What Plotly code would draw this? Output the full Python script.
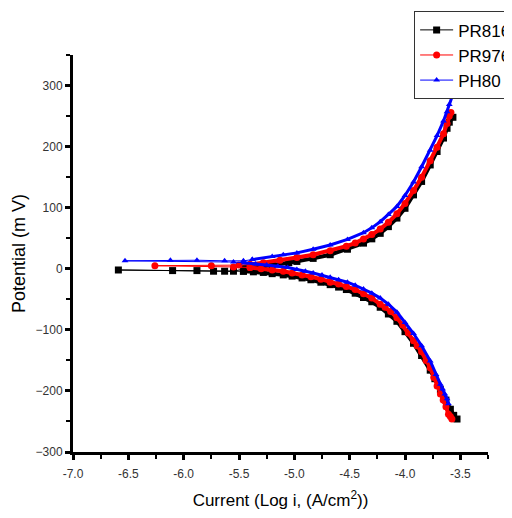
import plotly.graph_objects as go

# PR816 (black squares): cathodic branch, points near Ecorr, anodic branch
pr816_cath_x = [-3.53, -3.56, -3.59, -3.63, -3.68, -3.73, -3.772, -3.85, -3.923, -4.00, -4.073, -4.15, -4.224, -4.30,
                -4.375, -4.45, -4.53, -4.60, -4.676, -4.76, -4.85, -4.93, -5.02, -5.10, -5.20, -5.28, -5.37, -5.46]
pr816_cath_y = [-246, -240, -230, -215, -198, -180, -166, -142, -122, -103, -86, -74, -63, -54,
                -47, -40, -34, -30, -26, -22, -18, -15, -12, -10, -8, -6, -5, -4]
pr816_ecorr_x = [-5.46, -5.63, -6.59, -6.10, -5.88, -5.73, -5.55, -5.45]
pr816_ecorr_y = [-4, -4, -2, -3, -3, -4, -4, 0]
pr816_anod_x = [-5.45, -5.35, -5.20, -5.05, -4.977, -4.83, -4.676, -4.52, -4.375, -4.30, -4.224, -4.15, -4.073, -4.00,
                -3.923, -3.85, -3.772, -3.71, -3.652, -3.62, -3.60, -3.567]
pr816_anod_y = [0, 3, 6, 10, 12, 17, 23, 32, 42, 49, 58, 69, 83, 99,
                121, 143, 170, 192, 214, 230, 240, 248]

# PR976 (red circles)
pr976_cath_x = [-3.576, -3.59, -3.607, -3.63, -3.655, -3.68, -3.71, -3.74, -3.772, -3.81, -3.85, -3.89, -3.923, -3.97,
                -4.02, -4.073, -4.13, -4.18, -4.224, -4.30, -4.375, -4.45, -4.53, -4.60, -4.676, -4.76, -4.85, -4.93,
                -5.02, -5.10, -5.20, -5.30, -5.40]
pr976_cath_y = [-246, -242, -238, -226, -215, -205, -192, -178, -162, -150, -136, -126, -118, -105,
                -92, -80, -70, -63, -58, -48, -41, -34, -29, -25, -22, -17, -13, -10,
                -7, -4, -2, 0, 2]
pr976_ecorr_x = [-5.40, -5.55, -6.26, -5.75, -5.50, -5.40]
pr976_ecorr_y = [2, 3, 5, 5, 6, 7]
pr976_anod_x = [-5.40, -5.28, -5.13, -4.977, -4.83, -4.676, -4.53, -4.45, -4.375, -4.30, -4.224, -4.15, -4.073, -4.00,
                -3.923, -3.85, -3.772, -3.71, -3.652, -3.62, -3.60, -3.585]
pr976_anod_y = [7, 10, 14, 18.5, 23, 29.5, 37, 42, 48.7, 56, 65, 76, 90, 107,
                128, 150, 177, 199, 221, 238, 250, 256]

# PH80 (blue triangles)
ph80_cath_x = [-3.607, -3.62, -3.64, -3.66, -3.68, -3.72, -3.772, -3.85, -3.923, -4.00, -4.073, -4.15, -4.224, -4.30,
               -4.375, -4.45, -4.52, -4.60, -4.676, -4.75, -4.83, -4.90, -4.977, -5.06, -5.15, -5.25, -5.35, -5.45]
ph80_cath_y = [-221, -213, -205, -197, -189, -173, -151, -126, -106, -88, -71, -58, -48, -40,
               -33, -27, -22, -18, -14, -10, -7, -4, -1, 2, 4, 6, 8, 10]
ph80_ecorr_x = [-5.45, -5.55, -6.53, -6.12, -5.88, -5.63, -5.46, -5.38]
ph80_ecorr_y = [10, 11, 13, 14, 14, 13, 13, 15]
ph80_anod_x = [-5.38, -5.20, -5.10, -4.977, -4.83, -4.676, -4.52, -4.375, -4.30, -4.224, -4.15, -4.073, -4.00,
               -3.923, -3.85, -3.772, -3.71, -3.652, -3.62, -3.60, -3.576]
ph80_anod_y = [15, 20, 23, 26, 32, 39, 48, 59, 67, 77, 89, 102, 120,
               142, 167, 194, 218, 242, 257, 269, 281]

x_ticks = [-7.0, -6.5, -6.0, -5.5, -5.0, -4.5, -4.0, -3.5]
x_tick_labels = ["-7.0", "-6.5", "-6.0", "-5.5", "-5.0", "-4.5", "-4.0", "-3.5"]
y_ticks = [-300, -200, -100, 0, 100, 200, 300]

series = [
    ("PR816", "black", "square", 7, 4, pr816_cath_x, pr816_cath_y, pr816_ecorr_x, pr816_ecorr_y, pr816_anod_x, pr816_anod_y),
    ("PR976", "red", "circle", 7, 4, pr976_cath_x, pr976_cath_y, pr976_ecorr_x, pr976_ecorr_y, pr976_anod_x, pr976_anod_y),
    ("PH80", "blue", "triangle-up", 6, 3, ph80_cath_x, ph80_cath_y, ph80_ecorr_x, ph80_ecorr_y, ph80_anod_x, ph80_anod_y),
]

fig = go.Figure()
for name, color, sym, size, bw, cx, cy, ex, ey, ax, ay in series:
    # thin line near Ecorr (also carries the legend entry)
    fig.add_trace(go.Scatter(x=ex, y=ey, name=name, legendgroup=name, mode="lines+markers",
                             line=dict(color=color, width=1),
                             marker=dict(symbol=sym, size=size, color=color)))
    for bx, by in ((cx, cy), (ax, ay)):
        fig.add_trace(go.Scatter(x=bx, y=by, name=name, legendgroup=name, showlegend=False,
                                 mode="lines+markers",
                                 line=dict(color=color, width=bw),
                                 marker=dict(symbol=sym, size=size, color=color)))

axis_common = dict(showline=True, linecolor="black", linewidth=3, ticks="outside",
                   ticklen=5, tickwidth=3, tickcolor="black", showgrid=False, zeroline=False,
                   tickfont=dict(family="Liberation Sans, Arial", size=12, color="#333"))

fig.update_xaxes(range=[-7.0, -3.25], tickvals=x_ticks, ticktext=x_tick_labels, ticklabelstandoff=4,
                 minor=dict(ticks="outside", ticklen=4, tickwidth=2, tickcolor="black", dtick=0.25, tick0=-7.0),
                 title=dict(text="Current (Log i, (A/cm<sup>2</sup>))",
                            font=dict(family="Liberation Sans, Arial", size=17, color="black"), standoff=14),
                 **axis_common)
fig.update_yaxes(range=[-300, 350], tickvals=y_ticks,
                 minor=dict(ticks="outside", ticklen=4, tickwidth=2, tickcolor="black", dtick=50, tick0=-300),
                 title=dict(text="Potential (m V)",
                            font=dict(family="Liberation Sans, Arial", size=18, color="black"), standoff=6),
                 **axis_common)

fig.update_layout(
    width=512, height=518,
    margin=dict(l=65, r=32, t=47, b=74, autoexpand=False),
    plot_bgcolor="white", paper_bgcolor="white",
    showlegend=True,
    legend=dict(x=0.822, y=1.11, xanchor="left", yanchor="top",
                bordercolor="#333", borderwidth=1, bgcolor="white",
                font=dict(family="Liberation Sans, Arial", size=17, color="black"),
                tracegroupgap=0, itemwidth=33),
)

fig.write_html("out.html")
